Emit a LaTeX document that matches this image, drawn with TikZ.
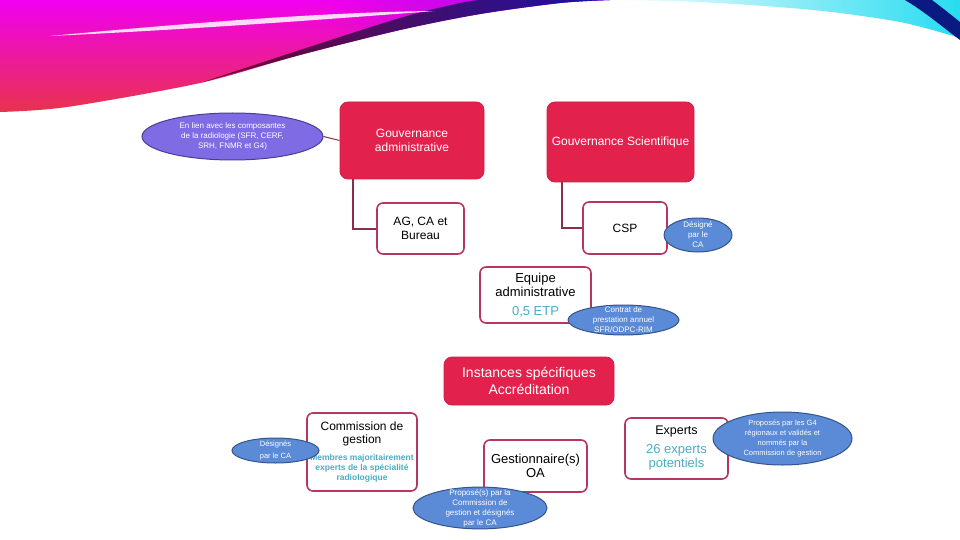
\documentclass[tikz,border=0pt]{standalone}
\usepackage{fontspec}
\setmainfont{Liberation Sans}
\usetikzlibrary{shapes.geometric,fadings}
\definecolor{boxred}{HTML}{E2224C}
\definecolor{rimred}{HTML}{B5375F}
\definecolor{linkred}{HTML}{8C2B4E}
\definecolor{ellblue}{HTML}{5B8AD6}
\definecolor{ellrim}{HTML}{34548C}
\definecolor{ellpurple}{HTML}{7F6BE3}
\definecolor{purplerim}{HTML}{4B3D95}
\definecolor{accent}{HTML}{4BACC6}
\definecolor{magC}{HTML}{F000F0}
\definecolor{pinkC}{HTML}{F0189C}
\definecolor{redC}{HTML}{E83448}
\definecolor{violC}{HTML}{9A10E8}
\definecolor{maroonC}{HTML}{700828}
\definecolor{blackC}{HTML}{150830}
\definecolor{navyC}{HTML}{1A12A8}
\definecolor{cyanC}{HTML}{28DCF0}
\definecolor{deepnavy}{HTML}{0A1A80}
\newcommand\fs[2]{\fontsize{#1}{#2}\selectfont}
\tikzfading[name=fadein, left color=transparent!100, right color=transparent!0]
\begin{document}
\begin{tikzpicture}[x=1pt,y=-1pt,
  redbox/.style={rectangle, rounded corners=8pt, fill=boxred, draw=boxred!92!black, line width=0.8pt, text=white, align=center, inner sep=0pt},
  whitebox/.style={rectangle, rounded corners=6pt, fill=white, draw=rimred, line width=1.6pt, align=center, inner sep=0pt},
  bubble/.style={ellipse, fill=ellblue, draw=ellrim, line width=1pt, text=white, align=center, inner sep=-4pt},
  link/.style={draw=linkred, line width=2pt},
  thinlink/.style={draw=linkred, line width=1pt}
]
\useasboundingbox (0,0) rectangle (960,540);
\fill[white] (0,0) rectangle (960,540);

% ---- banner ----
\begin{scope}
\clip (0,0) -- (610,0) -- plot[smooth] coordinates {(610,0)(560,3)(480,14)(400,30)(300,55)(200,83)(67,107)(0,112)} -- cycle;
\shade[top color=magC, middle color=pinkC, bottom color=redC] (0,0) rectangle (610,115);
\fill[violC, path fading=fadein] (330,0) rectangle (610,60);
\end{scope}
\shade[left color=maroonC, middle color=blackC, right color=navyC]
  plot[smooth] coordinates {(200,83)(300,55)(400,30)(480,14)(560,3)(610,0)}
  -- plot[smooth] coordinates {(480,0)(460,3)(400,18)(300,50)(200,83)} -- cycle;
\fill[white, opacity=0.85] (50,36) .. controls (200,22) and (330,12) .. (435,11) .. controls (330,19) and (200,29) .. (50,36) -- cycle;
\shade[left color=white, right color=cyanC] (600,0) -- (960,0) -- (960,38)
  -- plot[smooth] coordinates {(960,38)(900,22)(813,10)(700,2)(610,0)} -- cycle;
\fill[deepnavy] (905,0) -- (932,0) .. controls (945,10) .. (960,22) -- (960,40) .. controls (940,25) and (925,12) .. (905,0) -- cycle;

% ---- connectors ----
\node[redbox, minimum width=144pt, minimum height=77pt, font=\fs{12}{14}] (ga) at (412,140.5) {Gouvernance\\administrative};
\node[redbox, minimum width=147pt, minimum height=80pt, font=\fs{12}{14}] (gs) at (620.5,142) {Gouvernance Scientifique};
\node[whitebox, minimum width=87pt, minimum height=51pt, font=\fs{12}{14}] (ag) at (420.5,228.5) {AG, CA et\\Bureau};
\node[whitebox, minimum width=84pt, minimum height=52pt, font=\fs{12}{14}] (csp) at (625,228) {CSP};
\draw[link] ([xshift=-59pt]ga.south) |- (ag.west);
\draw[link] ([xshift=-58.5pt]gs.south) |- (csp.west);

\node[whitebox, minimum width=111pt, minimum height=56pt, font=\fs{13}{14}] (eq) at (535.5,295) {Equipe\\administrative\\[5pt]{\color{accent}0,5 ETP}};
\node[redbox, minimum width=170pt, minimum height=48pt, font=\fs{14}{17}] (inst) at (529,381) {Instances spécifiques\\Accréditation};
\node[whitebox, minimum width=110pt, minimum height=78pt, font=\fs{12}{13}] (cg) at (362,452) {Commission de\\gestion\\[4pt]{\fs{8.5}{10}\bfseries\color{accent}Membres majoritairement}\\[-3pt]{\fs{8.5}{10}\bfseries\color{accent}experts de la spécialité}\\[-3pt]{\fs{8.5}{10}\bfseries\color{accent}radiologique}};
\node[whitebox, minimum width=103pt, minimum height=52pt, font=\fs{13}{14}] (go) at (535.5,466) {Gestionnaire(s)\\OA};
\node[whitebox, minimum width=103pt, minimum height=61pt, font=\fs{12.5}{14}] (ex) at (676.5,448.5) {Experts\\[5pt]{\fs{13}{14}\color{accent}26 experts}\\{\fs{13}{14}\color{accent}potentiels}};

% ---- bubbles ----
\node[bubble, fill=ellpurple, draw=purplerim, minimum width=181pt, minimum height=47pt, font=\fs{8}{10}] (lien) at (232.5,136.5) {En lien avec les composantes\\de la radiologie (SFR, CERF,\\SRH, FNMR et G4)};
\draw[thinlink] (lien.east) -- (ga.west);
\node[bubble, minimum width=68pt, minimum height=34pt, font=\fs{8}{10}] (des1) at (698,235) {Désigné\\par le\\CA};
\node[bubble, minimum width=111pt, minimum height=30pt, font=\fs{8}{10}] (contrat) at (623.5,320) {Contrat de\\prestation annuel\\SFR/ODPC-RIM};
\node[bubble, minimum width=87pt, minimum height=25pt, font=\fs{7.5}{11.5}] (des2) at (275.5,450.5) {Désignés\\par le CA};
\node[bubble, minimum width=134pt, minimum height=38pt, font=\fs{8}{10}] (prop) at (480,508) {Proposé(s) par la\\Commission de\\gestion et désignés\\par le CA};
\node[bubble, minimum width=139pt, minimum height=53pt, font=\fs{7.5}{10.3}] (g4) at (782.5,438.5) {Proposés par les G4\\régionaux et validés et\\nommés par la\\Commission de gestion};
\end{tikzpicture}
\end{document}
